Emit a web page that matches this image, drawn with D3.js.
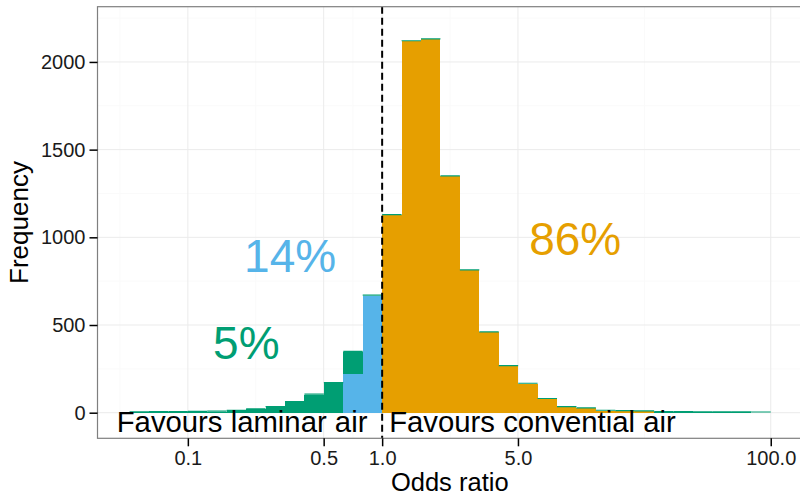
<!DOCTYPE html>
<html>
<head>
<meta charset="utf-8">
<script src="https://cdn.jsdelivr.net/npm/d3@7"></script>
<style>
  html, body { margin: 0; padding: 0; background: #ffffff; }
  svg { display: block; font-family: "Liberation Sans", Arial, sans-serif; }
</style>
</head>
<body>
<svg id="chart" width="800" height="498"></svg>
<script>
// Histogram of simulated odds ratios, binned on a log10 scale (bin width 0.1)
const binLowerLog10 = [-1.3, -1.2, -1.1, -1.0, -0.9, -0.8, -0.7, -0.6, -0.5, -0.4, -0.3, -0.2, -0.1,
                       0.0, 0.1, 0.2, 0.3, 0.4, 0.5, 0.6, 0.7, 0.8, 0.9, 1.0, 1.1, 1.2, 1.3,
                       1.4, 1.5, 1.6, 1.7, 1.8, 1.9];
const binWidthLog10 = 0.1;

// All simulations
const countsAll = [2, 4, 4, 5, 6, 10, 19, 32, 61, 103, 169, 347, 668,
                   1127, 2118, 2129, 1348, 812, 458, 265, 165, 78, 32, 25, 11, 9, 8,
                   3, 3, 2, 2, 2, 1];
// Simulations with OR just below 1
const countsBelowOne = [0, 0, 0, 0, 0, 0, 0, 0, 0, 0, 0, 222, 668,
                        0, 0, 0, 0, 0, 0, 0, 0, 0, 0, 0, 0, 0, 0,
                        0, 0, 0, 0, 0, 0];
// Simulations with OR above 1
const countsAboveOne = [0, 0, 0, 0, 0, 0, 0, 0, 0, 0, 0, 0, 0,
                        1127, 2118, 2129, 1348, 812, 458, 265, 165, 78, 32, 25, 11, 9, 8,
                        0, 0, 0, 0, 0, 0];

const xTickValues = [0.1, 0.5, 1.0, 5.0, 100.0];
const xTickLabels = ["0.1", "0.5", "1.0", "5.0", "100.0"];
const yTickValues = [0, 500, 1000, 1500, 2000];

const percentLabels = [
  { text: "5%",  x: 0.2,   y: 400, color: "#009E73" },
  { text: "14%", x: 0.336, y: 891, color: "#56B4E9" },
  { text: "86%", x: 9.85,  y: 988, color: "#E69F00" }
];
const sideLabels = [
  { text: "Favours laminar air",    x: 0.84, y: -50, anchor: "end" },
  { text: "Favours convential air", x: 1.087, y: -50, anchor: "start" }
];

const colGreen = "#009E73", colBlue = "#56B4E9", colOrange = "#E69F00";

const svg = d3.select("#chart");
const panel = { left: 97.5, right: 802.8, top: 6.7, bottom: 438.3 };

const x = d3.scaleLog()
  .domain([Math.pow(10, -1.465), Math.pow(10, 2.165)])
  .range([panel.left, panel.right]);
const y = d3.scaleLinear()
  .domain([-146, 2315])
  .range([panel.bottom, panel.top]);

svg.append("defs").append("clipPath").attr("id", "panelClip")
  .append("rect")
  .attr("x", panel.left).attr("y", panel.top)
  .attr("width", panel.right - panel.left).attr("height", panel.bottom - panel.top);

const g = svg.append("g").attr("clip-path", "url(#panelClip)");

// panel background
g.append("rect")
  .attr("x", panel.left).attr("y", panel.top)
  .attr("width", panel.right - panel.left).attr("height", panel.bottom - panel.top)
  .attr("fill", "#ffffff");

// minor grid: midpoints between major breaks in log space, extended outward
const logMajors = xTickValues.map(Math.log10);
const xMinor = [];
for (let i = 0; i < logMajors.length - 1; i++) xMinor.push((logMajors[i] + logMajors[i + 1]) / 2);
xMinor.unshift(2 * logMajors[0] - xMinor[0]);
const yMinor = [-250, 250, 750, 1250, 1750, 2250];

g.selectAll(".ygridMinor").data(yMinor).join("line")
  .attr("x1", panel.left).attr("x2", panel.right)
  .attr("y1", d => y(d)).attr("y2", d => y(d))
  .attr("stroke", "#fafafa").attr("stroke-width", 1);
g.selectAll(".xgridMinor").data(xMinor).join("line")
  .attr("x1", d => x(Math.pow(10, d))).attr("x2", d => x(Math.pow(10, d)))
  .attr("y1", panel.top).attr("y2", panel.bottom)
  .attr("stroke", "#fafafa").attr("stroke-width", 1);
g.selectAll(".ygrid").data(yTickValues).join("line")
  .attr("x1", panel.left).attr("x2", panel.right)
  .attr("y1", d => y(d)).attr("y2", d => y(d))
  .attr("stroke", "#ebebeb").attr("stroke-width", 1);
g.selectAll(".xgrid").data(xTickValues).join("line")
  .attr("x1", d => x(d)).attr("x2", d => x(d))
  .attr("y1", panel.top).attr("y2", panel.bottom)
  .attr("stroke", "#ebebeb").attr("stroke-width", 1);

// bars
const bins = binLowerLog10.map((lo, i) => ({
  x0: Math.pow(10, lo), x1: Math.pow(10, lo + binWidthLog10),
  all: countsAll[i], below: countsBelowOne[i], above: countsAboveOne[i]
}));

function drawBars(key, color) {
  g.append("g").selectAll("rect").data(bins.filter(b => b[key] > 0)).join("rect")
    .attr("x", b => x(b.x0))
    .attr("width", b => x(b.x1) - x(b.x0))
    .attr("y", b => y(b[key]))
    .attr("height", b => y(0) - y(b[key]))
    .attr("fill", color)
    .attr("shape-rendering", "crispEdges");
}
drawBars("all", colGreen);
drawBars("below", colBlue);
drawBars("above", colOrange);

// thin outline along the top of the full histogram
g.append("g").selectAll("line").data(bins).join("line")
  .attr("x1", b => x(b.x0)).attr("x2", b => x(b.x1))
  .attr("y1", b => y(b.all) - 0.5).attr("y2", b => y(b.all) - 0.5)
  .attr("stroke", colGreen).attr("stroke-width", 1.2);

// reference line at OR = 1
g.append("line")
  .attr("x1", x(1)).attr("x2", x(1))
  .attr("y1", panel.top).attr("y2", panel.bottom)
  .attr("stroke", "#000").attr("stroke-width", 2)
  .attr("stroke-dasharray", "7,4");

// percentage annotations
g.selectAll(".pct").data(percentLabels).join("text")
  .attr("x", d => x(d.x)).attr("y", d => y(d.y))
  .attr("text-anchor", "middle").attr("dominant-baseline", "central")
  .attr("font-size", 46).attr("fill", d => d.color)
  .text(d => d.text);

g.selectAll(".side").data(sideLabels).join("text")
  .attr("x", d => x(d.x)).attr("y", d => y(d.y))
  .attr("text-anchor", d => d.anchor).attr("dominant-baseline", "central")
  .attr("font-size", 29.3).attr("fill", "#000")
  .text(d => d.text);

// panel border
svg.append("rect")
  .attr("x", panel.left).attr("y", panel.top)
  .attr("width", panel.right - panel.left).attr("height", panel.bottom - panel.top)
  .attr("fill", "none").attr("stroke", "#7f7f7f").attr("stroke-width", 1.2);

// axes
const xAxis = d3.axisBottom(x).tickValues(xTickValues)
  .tickFormat((d, i) => xTickLabels[i]).tickSize(8).tickPadding(5);
const yAxis = d3.axisLeft(y).tickValues(yTickValues)
  .tickFormat(d3.format("d")).tickSize(8).tickPadding(4);

const gx = svg.append("g").attr("transform", `translate(0,${panel.bottom})`).call(xAxis);
const gy = svg.append("g").attr("transform", `translate(${panel.left},0)`).call(yAxis);
[gx, gy].forEach(a => {
  a.select(".domain").remove();
  a.selectAll(".tick line").attr("stroke", "#000").attr("stroke-width", 1.5);
  a.selectAll(".tick text").attr("fill", "#1a1a1a").attr("font-size", 20)
    .attr("font-family", "Liberation Sans, Arial, sans-serif");
});

// axis titles
svg.append("text")
  .attr("x", (panel.left + 800) / 2 + 1).attr("y", 491)
  .attr("text-anchor", "middle").attr("font-size", 25.5).attr("fill", "#000")
  .text("Odds ratio");
svg.append("text")
  .attr("transform", `translate(28,${(panel.top + panel.bottom) / 2}) rotate(-90)`)
  .attr("text-anchor", "middle").attr("font-size", 26).attr("fill", "#000")
  .text("Frequency");
</script>
</body>
</html>
